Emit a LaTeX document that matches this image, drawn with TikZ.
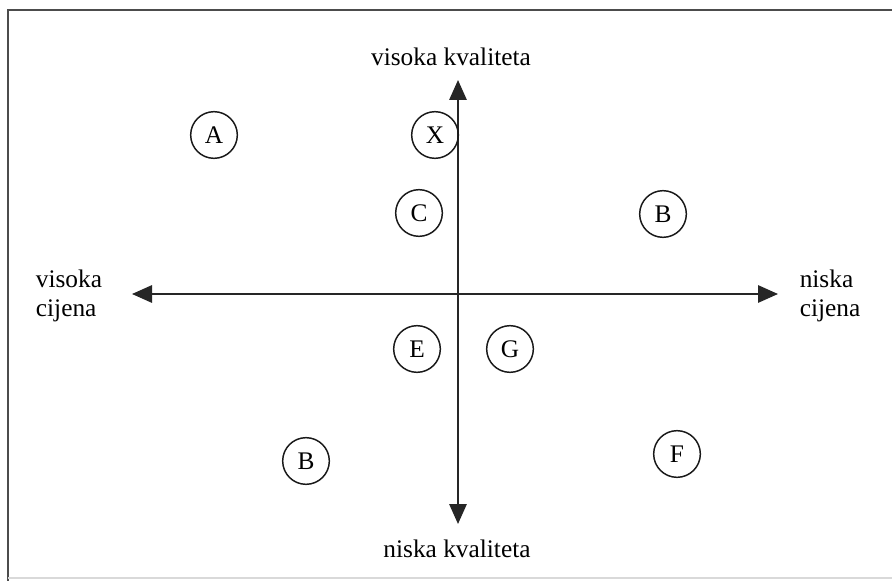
\documentclass[tikz,border=0pt]{standalone}
\usepackage{fontspec}
\setmainfont{Liberation Serif}
\usetikzlibrary{arrows.meta}
\begin{document}
\begin{tikzpicture}[x=0.75pt,y=-0.75pt,
  pt/.style={draw=black!90,line width=1.1pt,circle,minimum size=35pt,inner sep=0pt,font=\fontsize{19}{21}\selectfont},
  axis/.style={draw=black!85,line width=1.5pt,-{Triangle[length=15pt,width=13pt]}},
  lbl/.style={font=\fontsize{19}{22}\selectfont,align=left,inner sep=0pt,text=black}]
\useasboundingbox (0,0) rectangle (892,581);
\fill[white] (0,0) rectangle (892,581);
\draw[black!70,line width=1.5pt] (892,10) -- (8,10) -- (8,581);
\draw[black!15,line width=1pt] (8,578) -- (892,578);
\coordinate (o) at (458,294);
\coordinate (top) at (458,80);
\coordinate (bot) at (458,524);
\coordinate (lft) at (132,294);
\coordinate (rgt) at (778,294);
\draw[axis] (o) -- (top);
\draw[axis] (o) -- (bot);
\draw[axis] (o) -- (lft);
\draw[axis] (o) -- (rgt);
\node[lbl] (tq) at (451,57) {visoka kvaliteta};
\node[lbl] (bq) at (457,549) {niska kvaliteta};
\node[lbl] (lp) at (69,296) {visoka\\cijena};
\node[lbl] (rp) at (830,296) {niska\\cijena};
\node[pt] (A) at (214,135) {A};
\node[pt] (X) at (435,135) {X};
\node[pt] (C) at (419,213) {C};
\node[pt] (B1) at (663,214) {B};
\node[pt] (E) at (417,349) {E};
\node[pt] (G) at (510,349) {G};
\node[pt] (B2) at (306,461) {B};
\node[pt] (F) at (677,454) {F};
\end{tikzpicture}
\end{document}
